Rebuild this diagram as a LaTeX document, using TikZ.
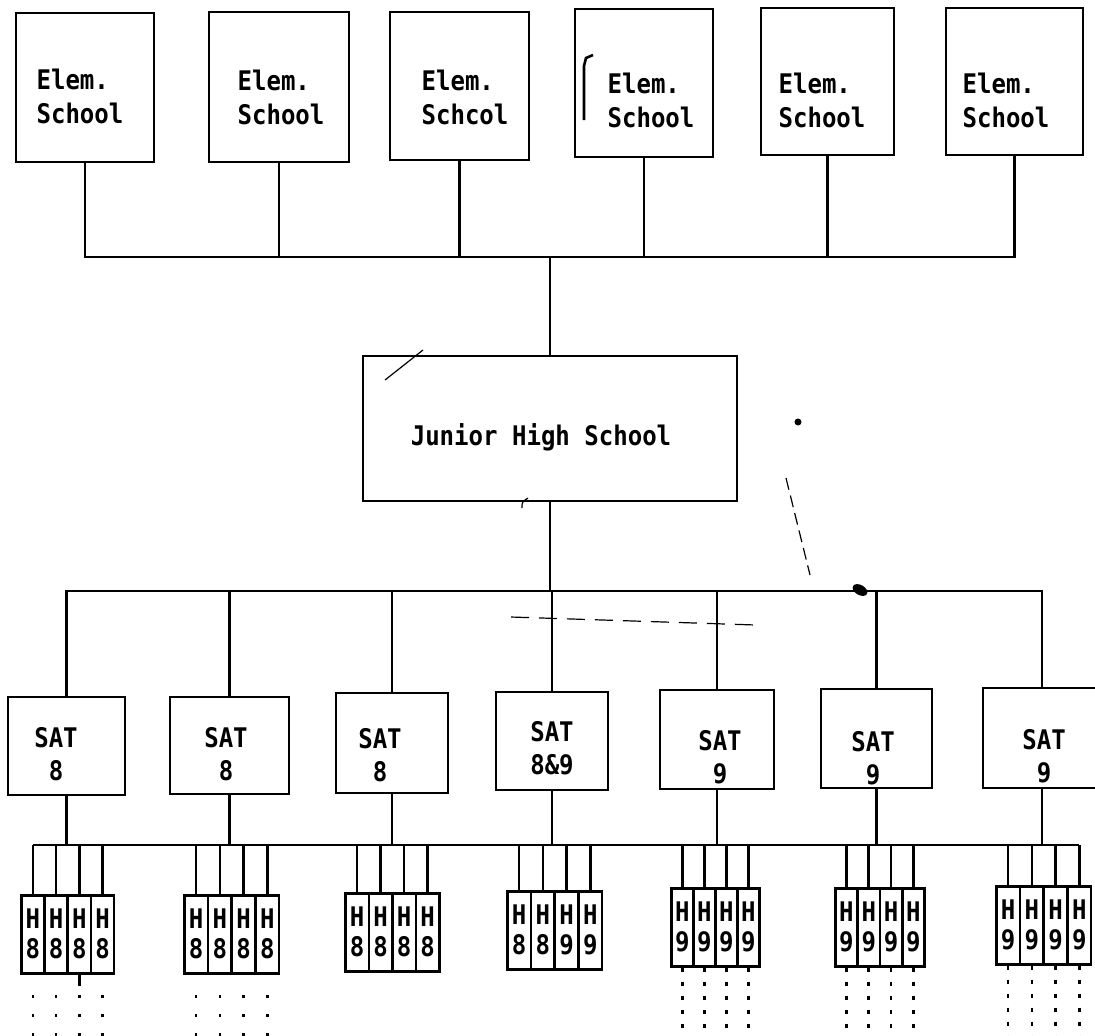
\documentclass[tikz,border=0pt]{standalone}
\usepackage{fontspec}
\newfontfamily\tw[FakeStretch=0.89]{DejaVu Sans Mono}
\usetikzlibrary{fit}
\begin{document}
\begin{tikzpicture}[x=0.5pt,y=-0.5pt, line width=1.3pt,
  box/.style={draw, inner sep=0pt},
  lbl/.style={font=\tw\bfseries\fontsize{13.5}{16.5}\selectfont, align=center, inner sep=0pt},
  lbll/.style={font=\tw\bfseries\fontsize{13.5}{17}\selectfont, align=left, inner sep=0pt},
  hbox/.style={draw, inner sep=0pt, minimum height=39pt, anchor=north west, font=\tw\bfseries\fontsize{13.5}{15}\selectfont, align=center},
  dots/.style={line width=1.3pt, dash pattern=on 2pt off 5pt},
  sparse/.style={line width=1.3pt, dash pattern=on 1.5pt off 8pt},
  scanmark/.style={line width=0.6pt}
]
\fill[white] (0,0) rectangle (1095,1035);
\clip (0,0) rectangle (1095,1035);

% elementary schools
\node[box, fit={(16,13) (154,162)}] (e1) {};
\node[box, fit={(209,12) (349,162)}] (e2) {};
\node[box, fit={(390,12) (529,160)}] (e3) {};
\node[box, fit={(575,9) (713,157)}] (e4) {};
\node[box, fit={(761,8) (894,155)}] (e5) {};
\node[box, fit={(946,8) (1083,155)}] (e6) {};
\node[lbll] (e1t) at (80,96) {Elem.\\School};
\node[lbll] (e2t) at (281,97) {Elem.\\School};
\node[lbll] (e3t) at (465,97) {Elem.\\Schcol};
\node[lbll] (e4t) at (651,100) {Elem.\\School};
\node[lbll] (e5t) at (822,100) {Elem.\\School};
\node[lbll] (e6t) at (1006,100) {Elem.\\School};

\coordinate (ebus) at (548,257);
\draw (e1.south) -- (e1.south |- ebus) -- (e6.south |- ebus) -- (e6.south);
\foreach \i in {2,...,5} \draw (e\i.south) -- (e\i.south |- ebus);

% junior high
\node[box, fit={(363,356) (737,501)}] (jhs) {};
\node[lbl] (jhst) at (541,437) {Junior High School};
\draw (jhs.north) -- (jhs.north |- ebus);

% SAT boxes
\coordinate (sbus) at (550,591);
\node[box, fit={(8,697) (125,795)}] (s1) {};
\node[box, fit={(170,697) (289,794)}] (s2) {};
\node[box, fit={(336,693) (448,793)}] (s3) {};
\node[box, fit={(496,692) (608,790)}] (s4) {};
\node[box, fit={(660,690) (774,789)}] (s5) {};
\node[box, fit={(821,689) (932,788)}] (s6) {};
\node[box, fit={(983,688) (1101,788)}] (s7) {};
\node[lbl] (s1t) at (56,754) {SAT\\8};
\node[lbl] (s2t) at (226,754) {SAT\\8};
\node[lbl] (s3t) at (380,755) {SAT\\8};
\node[lbl] (s4t) at (552,748) {SAT\\8\&9};
\node[lbl] (s5t) at (720,757) {SAT\\9};
\node[lbl] (s6t) at (873,758) {SAT\\9};
\node[lbl] (s7t) at (1044,756) {SAT\\9};

\draw (jhs.south) -- (jhs.south |- sbus);
\draw (s1.north) -- (s1.north |- sbus) -- (s7.north |- sbus) -- (s7.north);
\foreach \i in {2,...,6} \draw (s\i.north) -- (s\i.north |- sbus);

% H boxes
\coordinate (hbus) at (550,845);
\coordinate (bot) at (550,1040);
\coordinate (dtop) at (550,995);
\foreach \g/\x/\y/\w/\a/\b/\c/\d in {1/20/894/23.2/8/8/8/8, 2/183/894/23.7/8/8/8/8, 3/344/892/23.5/8/8/8/8, 4/506/890/23.7/8/8/9/9, 5/670/887/22/9/9/9/9, 6/834/887/22.3/9/9/9/9, 7/995/885/23.7/9/9/9/9} {
  \foreach \k/\v in {0/\a,1/\b,2/\c,3/\d} {
    \node[hbox, minimum width={\w*0.5pt}] (h\g-\k) at ({\x+\k*\w},\y) {H\\\v};
    \draw (h\g-\k.north) -- (h\g-\k.north |- hbus);
  }
}
\draw (h1-0.north |- hbus) -- (h7-3.north |- hbus);
\foreach \i in {1,...,7} \draw (s\i.south) -- (s\i.south |- hbus);

% dotted continuations
\foreach \g in {5,6,7} \foreach \k in {0,...,3} \draw[dots] (h\g-\k.south) -- (h\g-\k.south |- bot);
\foreach \g in {1,2} \foreach \k in {0,...,3} \draw[sparse] (h\g-\k.south |- dtop) -- (h\g-\k.south |- bot);
\draw (h1-2.south) -- ++(0,11);

% faint dashed line under SAT bus
\coordinate (fd1) at (511,617);
\coordinate (fd2) at (756,625);
\draw[line width=0.6pt, dash pattern=on 9pt off 5pt] (fd1) -- (fd2);

% scan marks
\draw (593,55) -- (586,58) -- (584,66) -- (584,120);
\draw[scanmark] (385,380) -- (423,350);
\draw[scanmark, dash pattern=on 6pt off 3pt] (786,478) -- (810,575);
\fill (798,422) circle (3.5);
\fill[rotate around={-30:(860,590)}] (860,590) ellipse (8 and 5);
\draw[scanmark] (528,498) .. controls (522,502) .. (522,508);
\end{tikzpicture}
\end{document}
